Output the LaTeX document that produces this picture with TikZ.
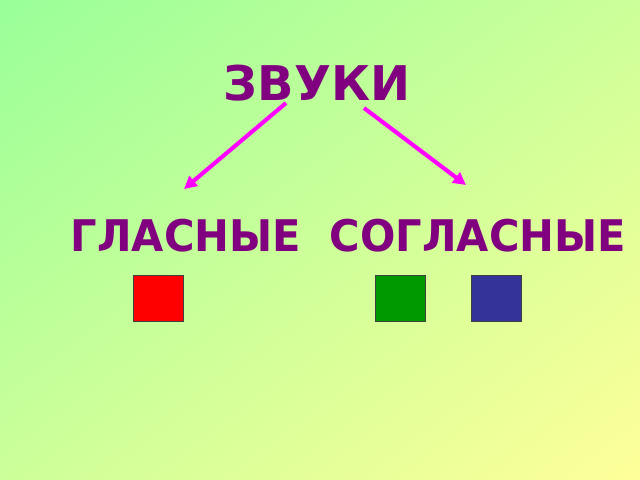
\documentclass[tikz,border=0pt]{standalone}
\usepackage{fontspec}
\setmainfont{DejaVu Sans}
\usetikzlibrary{arrows.meta,shadings}
\definecolor{bgtl}{HTML}{99FF99}
\definecolor{bgmid}{HTML}{CCFF99}
\definecolor{bgbr}{HTML}{FFFF99}
\definecolor{wordcol}{HTML}{800080}
\definecolor{arrowcol}{HTML}{FF00FF}
\definecolor{sqred}{HTML}{FF0000}
\definecolor{sqgreen}{HTML}{009900}
\definecolor{sqblue}{HTML}{333399}
\newcommand{\narrow}[1]{\scalebox{0.955}[1]{#1}}
\tikzset{
  word/.style={text=wordcol,font=\bfseries,inner sep=0pt,anchor=base},
  pointer/.style={arrowcol,line width=2.9pt,-{Triangle[length=9pt,width=9pt]}},
  soundbox/.style={draw=black!75,line width=0.6pt,minimum width=36pt,minimum height=32.6pt,inner sep=0pt}
}
\begin{document}
\begin{tikzpicture}[x=0.025cm,y=-0.025cm]
% Background
\useasboundingbox (0,0) rectangle (640,480);
\shade[upper left=bgtl,lower right=bgbr,upper right=bgmid,lower left=bgmid] (0,0) rectangle (640,480);

% Words
\node[word,font=\bfseries\fontsize{34}{40}\selectfont] (zvuki) at (317,100) {ЗВУКИ};
\node[word,font=\bfseries\fontsize{31}{36}\selectfont] (glasnye) at (186,251) {\narrow{ГЛАСНЫЕ}};
\node[word,font=\bfseries\fontsize{31}{36}\selectfont] (soglasnye) at (478,251) {\narrow{СОГЛАСНЫЕ}};

% Arrows
\coordinate (zl) at (286,103);
\coordinate (zr) at (364,108);
\coordinate (gl) at (184,189);
\coordinate (sg) at (466,185);
\draw[pointer] (zl) -- (gl);
\draw[pointer] (zr) -- (sg);

% Squares
\node[soundbox,fill=sqred] (vowel) at (158.5,298) {};
\node[soundbox,fill=sqgreen] (hard) at (400.5,298) {};
\node[soundbox,fill=sqblue] (soft) at (496.5,298) {};
\end{tikzpicture}
\end{document}
